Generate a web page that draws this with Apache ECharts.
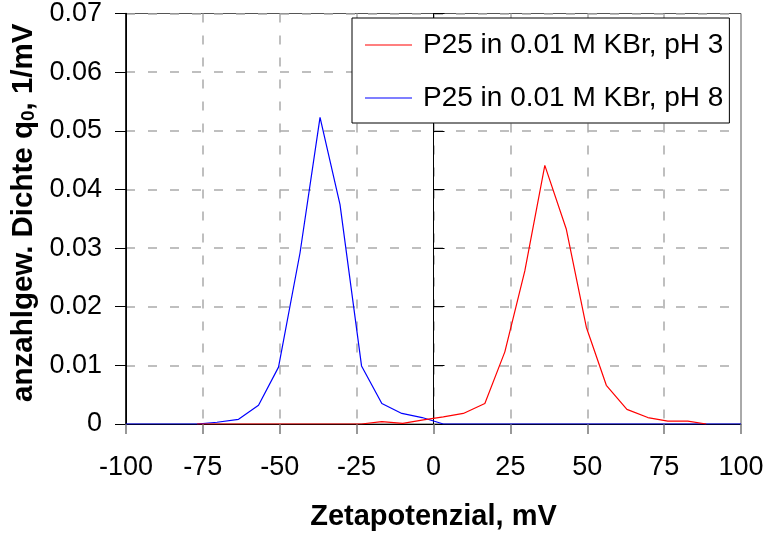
<!DOCTYPE html>
<html lang="de">
<head>
    <meta charset="UTF-8">
    <title>Zetapotenzial</title>
    <style>
        *{
            padding: 0;
            margin: 0;
        }
        .EC{
            width: 769px;
            height: 537px;
            background: #fff;
        }
    </style>
</head>
<body>
<div class="EC"></div>
<script src="https://cdn.jsdelivr.net/npm/echarts@6/dist/echarts.min.js"></script>
<script>
    // Zetapotenzial in mV und anzahlgew. Dichte q0 in 1/mV
    const zetaPH3 = [-76.9, -23.5, -16.8, -10.0, -3.3, 3.2, 9.7, 16.7, 23.2, 29.7, 36.2, 43.2, 49.7, 56.2, 62.9, 69.7, 76.2, 82.7, 88.7]
    const dichtePH3 = [0, 0, 0.0004, 0.0001, 0.0007, 0.0012, 0.0018, 0.0035, 0.0123, 0.0261, 0.0441, 0.0332, 0.0165, 0.0066, 0.0025, 0.0011, 0.0005, 0.0005, 0]
    const zetaPH8 = [-100, -76.9, -70.4, -63.4, -56.9, -50.4, -43.4, -36.9, -30.4, -23.4, -16.8, -10.3, -3.7, 3.2, 100]
    const dichtePH8 = [0, 0, 0.0003, 0.0008, 0.0032, 0.0097, 0.0292, 0.0523, 0.0374, 0.0099, 0.0035, 0.0018, 0.0011, 0, 0]
    const namePH3 = 'P25 in 0.01 M KBr, pH 3'
    const namePH8 = 'P25 in 0.01 M KBr, pH 8'
    const xTicks = [-100, 100, 25]
    const yTicks = [0, 0.07, 0.01]

    const font = 'Liberation Sans'
    const pairs = (xs, ys) => xs.map((x, i) => [x, ys[i]])
    const gridDash = {color: '#aaa', width: 1.5, type: [9, 13]}

    let EC = echarts.init(document.querySelector('.EC'), null, {renderer: 'canvas'})
    let option = {
        backgroundColor: '#fff',
        animation: false,
        textStyle: {fontFamily: font},
        grid: {
            left: 126,
            right: 28,
            top: 12,
            bottom: 113,
            show: true,
            borderColor: '#555',
            borderWidth: 1
        },
        legend: {
            orient: 'vertical',
            left: 352,
            top: 18,
            padding: [13, 6, 11, 13],
            itemGap: 25,
            itemWidth: 47,
            itemHeight: 1,
            icon: 'rect',
            backgroundColor: '#fff',
            borderColor: '#000',
            borderWidth: 1,
            borderRadius: 0,
            textStyle: {fontFamily: font, fontSize: 28, color: '#000', lineHeight: 28, padding: [0, 0, 0, 6]},
            data: [namePH3, namePH8]
        },
        xAxis: {
            type: 'value',
            min: xTicks[0],
            max: xTicks[1],
            interval: xTicks[2],
            name: 'Zetapotenzial, mV',
            nameLocation: 'middle',
            nameGap: 78,
            nameTextStyle: {fontFamily: font, fontSize: 29, fontWeight: 'bold', color: '#000'},
            axisLine: {onZero: false, lineStyle: {color: '#000', width: 1}},
            axisTick: {show: true, length: 10, lineStyle: {color: '#777', width: 1.5}},
            axisLabel: {fontFamily: font, fontSize: 27, color: '#000', margin: 30},
            splitLine: {show: true, showMinLine: false, showMaxLine: false, lineStyle: gridDash}
        },
        yAxis: [{
            type: 'value',
            min: yTicks[0],
            max: yTicks[1],
            interval: yTicks[2],
            name: 'anzahlgew. Dichte q{sub|0}, 1/mV',
            nameLocation: 'middle',
            nameGap: 87,
            nameTextStyle: {
                fontFamily: font, fontSize: 29.5, fontWeight: 'bold', color: '#000', padding: [0, 0, 0, 12],
                rich: {
                    sub: {fontFamily: font, fontSize: 19, fontWeight: 'bold', color: '#000', verticalAlign: 'bottom', padding: [11, 0, 0, 0]}
                }
            },
            axisLine: {show: true, onZero: false, lineStyle: {color: '#000', width: 1.5}},
            axisTick: {show: false},
            axisLabel: {fontFamily: font, fontSize: 27, color: '#000', margin: 24},
            splitLine: {show: true, showMinLine: false, lineStyle: gridDash}
        }, {
            // Achse bei Zeta = 0, Striche nach innen
            type: 'value',
            min: yTicks[0],
            max: yTicks[1],
            interval: yTicks[2],
            position: 'left',
            axisLine: {show: true, onZero: true, lineStyle: {color: '#000', width: 1}},
            axisTick: {show: true, inside: true, length: 11, lineStyle: {color: '#000', width: 1}},
            axisLabel: {show: false},
            splitLine: {show: false}
        }, {
            // gleiche Achse, Striche nach aussen
            type: 'value',
            min: yTicks[0],
            max: yTicks[1],
            interval: yTicks[2],
            position: 'left',
            axisLine: {show: true, onZero: true, lineStyle: {color: '#000', width: 1}},
            axisTick: {show: true, inside: false, length: 11, lineStyle: {color: '#000', width: 1}},
            axisLabel: {show: false},
            splitLine: {show: false}
        }],
        series: [{
            name: namePH8,
            type: 'line',
            color: '#0000ff',
            symbol: 'none',
            z: 3,
            lineStyle: {color: '#0000ff', width: 1.2},
            data: pairs(zetaPH8, dichtePH8)
        }, {
            name: namePH3,
            type: 'line',
            color: '#ff0000',
            symbol: 'none',
            z: 4,
            lineStyle: {color: '#ff0000', width: 1.2},
            data: pairs(zetaPH3, dichtePH3)
        }]
    }
    EC.setOption(option)
</script>
</body>
</html>
